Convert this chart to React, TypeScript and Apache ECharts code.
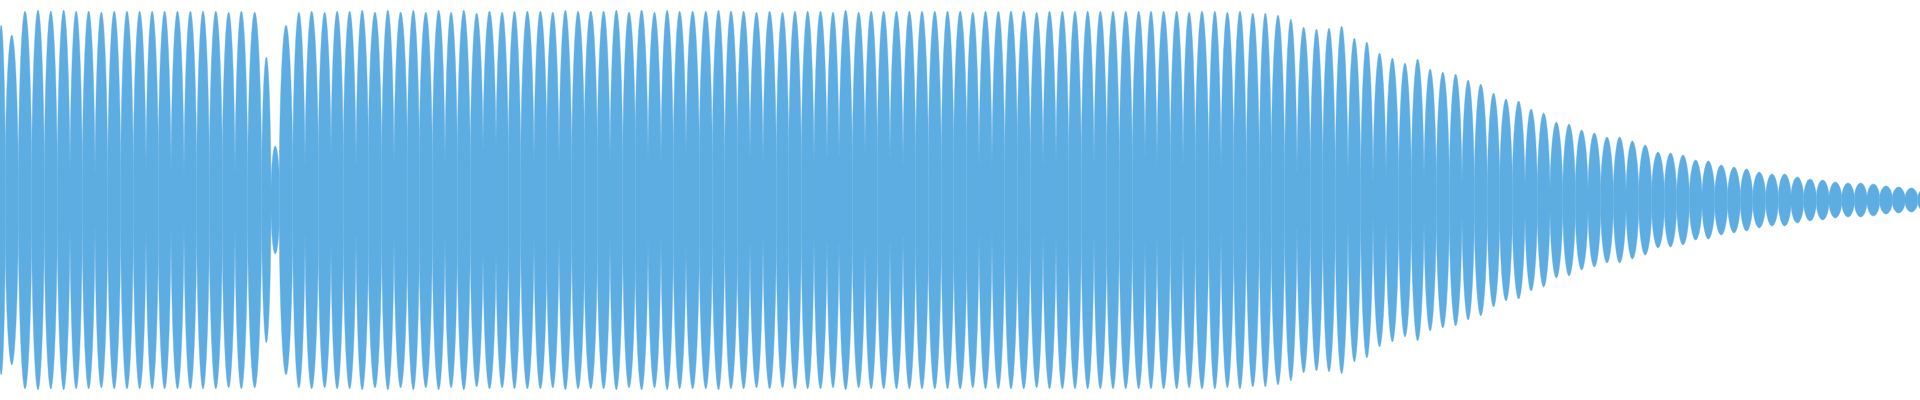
import React, { useEffect, useRef } from "react";
import * as echarts from "echarts";

// Time positions (ms) of the envelope minima between beats
const troughX = [
  5.3, 18.3, 31.7, 44.3, 57.3, 70, 82.3, 95, 107.7, 120.7, 133.3, 146, 158.3, 171, 184, 196.7, 209.3, 222.3, 235, 247.7,
  261.7, 271, 279.3, 292.7, 305, 318.3, 331, 343.3, 356, 368.3, 381.7,
  394, 407.3, 419.3, 432.3, 445, 457.3, 470.3, 483, 496, 508.3, 520.7, 534, 546.7, 559, 571.7, 584.3, 597.3, 610, 622.7,
  635.3, 648, 661, 673.3, 686, 699.3, 712.3, 724.7, 737.3, 750, 763,
  776.3, 788.7, 801.3, 814, 827, 839, 852.3, 865, 877.3, 890, 903, 915.7, 928.3, 941.3, 953.7, 966.7, 979, 992, 1004.7,
  1017.3, 1030.3, 1043, 1056, 1068.7, 1081.3, 1094, 1106.7, 1119.3, 1132.3, 1145,
  1157, 1170.3, 1183, 1195.3, 1208.7, 1221, 1233.7, 1246.3, 1259.3, 1271.3, 1284.7, 1297, 1310.3, 1322.7, 1335.3, 1348,
  1360.7, 1373, 1386, 1398.7, 1411.3, 1424, 1436.3, 1449.3, 1462, 1474.3, 1487.3, 1499.7, 1512.3, 1525,
  1537.3, 1550, 1562.7, 1575.3, 1588, 1600.7, 1613.3, 1626, 1638.7, 1651.7, 1664.3, 1676.7, 1689.3, 1702, 1714.7, 1727.7,
  1740.3, 1752.7, 1765.7, 1778.3, 1791, 1803.7, 1816.3, 1829, 1841.7, 1854.3, 1867, 1879.7, 1892.3, 1905, 1917.7,
];

// Envelope amplitude at each minimum
const troughAmp = [
  27, 14, 19, 15, 12, 15, 12, 14, 12, 15, 17, 19, 28, 17, 13, 14, 17, 23, 15, 14, 12, 7, 18, 20, 23, 30, 33, 30, 22, 39, 27,
  25, 37, 34, 25, 26, 30, 25, 40, 42, 31, 22, 26, 47, 25, 23, 50, 39, 27, 26, 48, 30, 26, 29, 36, 34, 30, 23, 42, 31, 25,
  27, 34, 23, 25, 29, 31, 24, 34, 36, 30, 22, 31, 34, 25, 38, 45, 23, 22, 25, 41, 21, 23, 26, 26, 22, 24, 30, 21, 23, 31,
  24, 28, 23, 29, 17, 20, 26, 15, 20, 28, 15, 15, 15, 18, 13, 12, 9, 9, 15, 12, 12, 12, 8, 9, 9, 8, 7, 12, 9, 7,
  6, 6, 4, 7, 6, 7, 3, 4, 5, 7, 6, 3, 3, 3, 4, 3, 2, 2, 2, 2, 3, 2, 2, 2, 2, 2, 2, 2, 2, 2, 2,
];

// Envelope amplitude at each beat maximum
const peakAmp = [
  175, 165, 189, 190, 189, 190, 189, 189, 188, 189, 189, 189, 189, 189, 189, 189, 189, 189, 188, 189, 188, 143, 54, 175,
  188, 189, 188, 189, 189, 190, 188,
  190, 188, 190, 188, 190, 188, 190, 187, 189, 188, 189, 189, 189, 188, 190, 189, 189, 189, 190, 188, 190, 188, 190, 189,
  189, 189, 190, 189, 189, 188,
  189, 188, 189, 189, 189, 188, 190, 188, 189, 189, 189, 189, 189, 189, 189, 189, 188, 189, 189, 189, 189, 188, 189, 189,
  189, 189, 189, 189, 189, 189,
  189, 189, 189, 188, 189, 189, 188, 189, 187, 187, 185, 181, 173, 171, 172, 174, 162, 158, 147, 142, 137, 141, 131, 128,
  126, 120, 116, 107, 101, 99,
  91, 87, 78, 76, 70, 67, 63, 63, 59, 55, 48, 47, 45, 40, 39, 35, 33, 31, 28, 26, 26, 23, 21, 20, 18, 17, 17, 16, 14, 13,
  12, 11,
];

// Minima just outside the visible window
const edgeX = [-3, 1930];
const edgeAmp = [20, 2];

const X_MIN = 0;
const X_MAX = 1920;
const Y_MAX = 200;
const COLOR = "#5DADE2";
const STEPS = 16;

// one row per beat: [start, end, start amplitude, peak amplitude, end amplitude]
function buildBeats(): number[][] {
  const bounds = [edgeX[0], ...troughX, edgeX[1]];
  const bAmp = [edgeAmp[0], ...troughAmp, edgeAmp[1]];
  return peakAmp.map((p, i) => [bounds[i], bounds[i + 1], bAmp[i], p, bAmp[i + 1]]);
}

// envelope profile of one beat side, from the minimum (0) to the maximum (1)
const profile = (t: number) => Math.sqrt(Math.sin((Math.PI / 2) * t));

export default function App() {
  const ref = useRef<HTMLDivElement>(null);

  useEffect(() => {
    document.body.style.margin = "0";
    if (!ref.current) return;
    const chart = echarts.init(ref.current, undefined, { renderer: "svg" });

    const renderItem = (_params: any, api: any) => {
      const x0 = api.value(0);
      const x1 = api.value(1);
      const a0 = api.value(2);
      const p = api.value(3);
      const a1 = api.value(4);
      const xp = (x0 + x1) / 2;
      const top: number[][] = [];
      for (let k = 0; k <= STEPS; k++) {
        const t = (k / STEPS) * (k / STEPS);
        top.push([x0 + (xp - x0) * t, a0 + (p - a0) * profile(t)]);
      }
      for (let k = STEPS - 1; k >= 0; k--) {
        const t = (k / STEPS) * (k / STEPS);
        top.push([x1 - (x1 - xp) * t, a1 + (p - a1) * profile(t)]);
      }
      const pts: number[][] = [];
      top.forEach((d) => pts.push(api.coord([d[0], d[1]])));
      for (let k = top.length - 1; k >= 0; k--) pts.push(api.coord([top[k][0], -top[k][1]]));
      return {
        type: "polygon",
        shape: { points: pts },
        style: { fill: COLOR, stroke: COLOR, lineWidth: 0.4 },
      };
    };

    chart.setOption({
      animation: false,
      backgroundColor: "#ffffff",
      grid: { left: 0, right: 0, top: 0, bottom: 0, containLabel: false },
      tooltip: { show: false },
      xAxis: { type: "value", min: X_MIN, max: X_MAX, show: false },
      yAxis: { type: "value", min: -Y_MAX, max: Y_MAX, show: false },
      series: [
        {
          type: "custom",
          name: "waveform",
          silent: true,
          clip: true,
          renderItem,
          encode: { x: [0, 1], y: [2, 3, 4] },
          data: buildBeats(),
        },
      ],
    });
    return () => chart.dispose();
  }, []);

  return <div ref={ref} style={{ width: 1920, height: 400 }} />;
}
